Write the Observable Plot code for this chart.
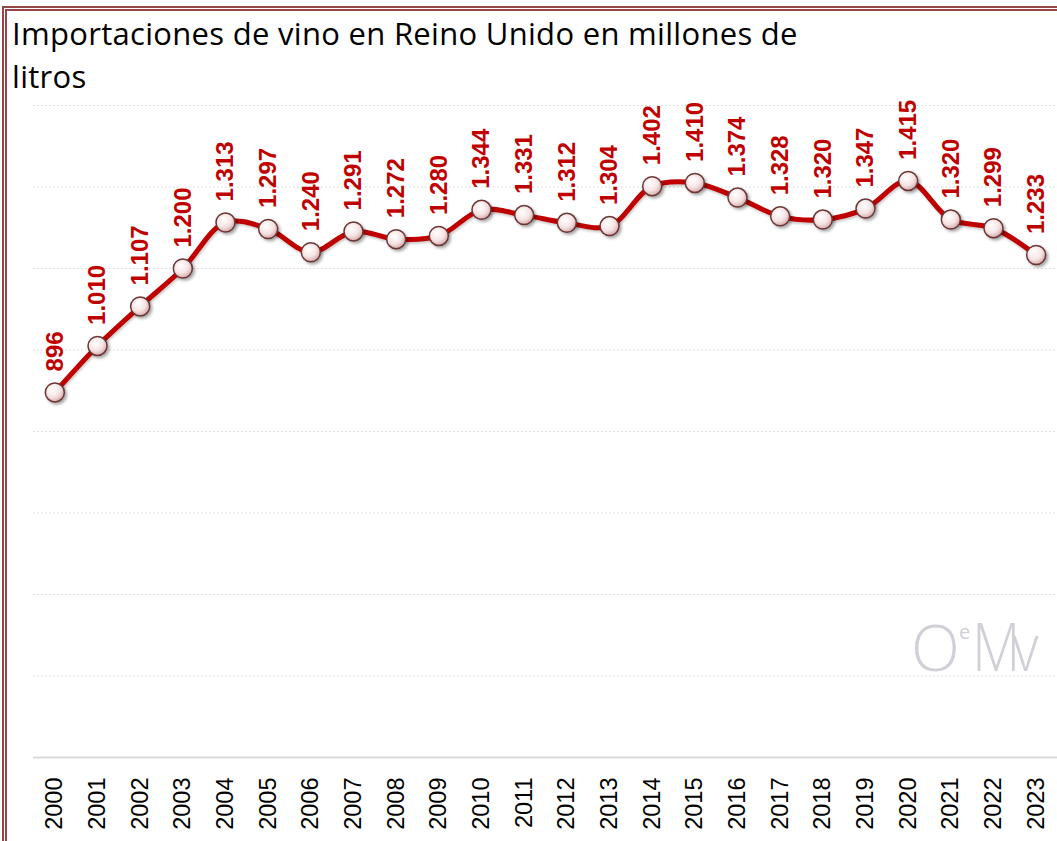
<!DOCTYPE html>
<html>
<head>
<meta charset="utf-8">
<script src="https://cdn.jsdelivr.net/npm/d3@7"></script>
<script src="https://cdn.jsdelivr.net/npm/@observablehq/plot@0.6"></script>
<style>
  html, body { margin: 0; padding: 0; background: #fff; overflow: hidden; }
  #wrap { position: relative; width: 1057px; height: 841px; overflow: hidden; }
  #frame { position: absolute; left: 2px; top: 6px; width: 1100px; height: 900px; border: 5px double #944545; box-sizing: border-box; }
  #title { position: absolute; left: 12px; top: 12px; font-family: "Open Sans", sans-serif; font-size: 31px; letter-spacing: 0.3px; line-height: 43px; color: #000; white-space: nowrap; }
  #logo { position: absolute; left: 911px; top: 600px; color: #cfd0d8; white-space: nowrap; font-family: "Open Sans", sans-serif; }
  #logo .o { font-size: 64px; font-weight: 300; }
  #logo .e { font-size: 20px; vertical-align: 32px; margin-left: -1px; }
  #logo .m { display: inline-block; font-size: 66px; font-weight: 300; letter-spacing: -9px; transform: scaleX(0.85); transform-origin: left bottom; margin-left: 2px; }
  #chart { position: absolute; left: 0; top: 0; }
  g[aria-label="dot"] { filter: drop-shadow(2px 2px 1.5px rgba(0,0,0,0.35)); }
  g[aria-label="line"] { filter: drop-shadow(1px 2px 1px rgba(0,0,0,0.2)); }
</style>
</head>
<body>
<div id="wrap">
  <div id="frame"></div>
  <div id="logo"><span class="o">O</span><span class="e">e</span><span class="m">Mv</span></div>
  <div id="chart"></div>
  <div id="title">Importaciones de vino en Reino Unido en millones de<br>litros</div>
</div>
<script>
const years = ["2000","2001","2002","2003","2004","2005","2006","2007","2008","2009","2010","2011","2012","2013","2014","2015","2016","2017","2018","2019","2020","2021","2022","2023"];
const imports = [896, 1010, 1107, 1200, 1313, 1297, 1240, 1291, 1272, 1280, 1344, 1331, 1312, 1304, 1402, 1410, 1374, 1328, 1320, 1347, 1415, 1320, 1299, 1233];
const gridTicks = [200, 400, 600, 800, 1000, 1200, 1400, 1600];

const esFormat = d3.formatLocale({decimal: ",", thousands: ".", grouping: [3], currency: ["", " €"]}).format(",");
const data = years.map((y, i) => ({year: y, value: imports[i], label: esFormat(imports[i])}));

const plot = Plot.plot({
  width: 1057,
  height: 841,
  marginTop: 105,
  marginBottom: 84,
  marginLeft: 33,
  marginRight: 0,
  style: {background: "transparent", overflow: "visible"},
  x: {type: "point", domain: years, padding: 0.5, round: false, axis: null, label: null},
  y: {domain: [0, 1600], axis: null, label: null},
  marks: [
    Plot.ruleY(gridTicks, {stroke: "#d4d4d4", strokeWidth: 1, strokeDasharray: "1.5,2.5"}),
    Plot.ruleY([0], {stroke: "#d9d9d9", strokeWidth: 2}),
    Plot.axisX({tickRotate: -90, tickSize: 0, tickPadding: 20, fontSize: 23.5, fill: "#000", label: null, fontFamily: "Liberation Sans, Arial, sans-serif"}),
    Plot.line(data, {x: "year", y: "value", stroke: "#c00000", strokeWidth: 5, curve: "catmull-rom"}),
    Plot.dot(data, {x: "year", y: "value", r: 9.5, fill: "url(#dotGrad)", stroke: "#6e3535", strokeWidth: 1.5}),
    Plot.text(data, {x: "year", y: "value", text: "label", rotate: -90, textAnchor: "start", dy: -21, fill: "#c00000", fontSize: 24, fontWeight: "bold", fontFamily: "Liberation Sans, Arial, sans-serif"})
  ]
});

const svg = d3.select(plot);
const defs = svg.insert("defs", ":first-child");
const grad = defs.append("radialGradient").attr("id", "dotGrad").attr("cx", "40%").attr("cy", "35%").attr("r", "65%");
grad.append("stop").attr("offset", "0%").attr("stop-color", "#ffffff");
grad.append("stop").attr("offset", "60%").attr("stop-color", "#f6e4e4");
grad.append("stop").attr("offset", "100%").attr("stop-color", "#d6acac");

document.getElementById("chart").appendChild(plot);
</script>
</body>
</html>
